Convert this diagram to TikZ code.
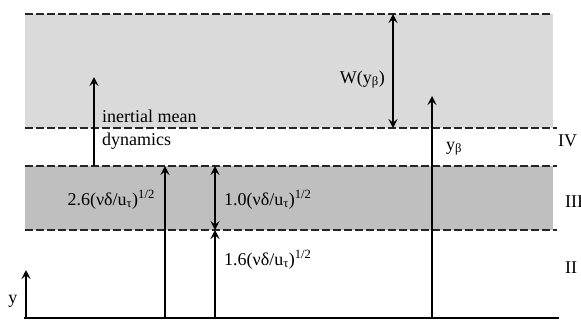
\documentclass[tikz,border=0pt]{standalone}
\usepackage{fontspec}
\setmainfont{Liberation Serif}
\usetikzlibrary{arrows.meta}
\definecolor{lightband}{HTML}{DADADA}
\definecolor{darkband}{HTML}{BFBFBF}
\tikzset{
  lvl/.style={line width=2pt, dash pattern=on 7.5pt off 3.5pt, black!85},
  arr/.style={line width=2pt, -{Stealth[length=9pt,width=9pt,inset=3.5pt]}},
  darr/.style={line width=2pt, {Stealth[length=9pt,width=9pt,inset=3.5pt]}-{Stealth[length=9pt,width=9pt,inset=3.5pt]}},
  lbl/.style={inner sep=0pt, font=\fontsize{18}{23}\selectfont},
}
\begin{document}
\begin{tikzpicture}[x=1pt,y=-1pt]
\useasboundingbox (0,0) rectangle (581,322);
\fill[lightband] (25,14) rectangle (553,128);
\fill[darkband] (25,166) rectangle (553,230);
\draw[lvl] (25,14) -- (553,14);
\draw[lvl] (25,128) -- (557,128);
\draw[lvl] (25,166) -- (557,166);
\draw[lvl] (25,230) -- (557,230);
% baseline
\coordinate (b0) at (24,318);
\coordinate (b1) at (559,318);
\draw[line width=2.4pt] (b0) -- (b1);
% coordinates
\coordinate (ya) at (26,318);  \coordinate (yb) at (26,270);
\coordinate (ia) at (94,166);  \coordinate (ib) at (94,77);
\coordinate (ta) at (165,318); \coordinate (tb) at (165,166);
\coordinate (sa) at (215,318); \coordinate (sb) at (215,230);
\coordinate (oa) at (215,230); \coordinate (ob) at (215,166);
\coordinate (wa) at (393,128); \coordinate (wb) at (393,14);
\coordinate (ba) at (432,318); \coordinate (bb) at (432,96);
\draw[arr] (ya) -- (yb);
\draw[arr] (ia) -- (ib);
\draw[arr] (ta) -- (tb);
\draw[arr] (sa) -- (sb);
\draw[darr] (oa) -- (ob);
\draw[darr] (wa) -- (wb);
\draw[arr] (ba) -- (bb);
% labels
\node[lbl, anchor=base] (ylab) at (13,303) {y};
\node[lbl, anchor=base west] (in1) at (102,122) {inertial mean};
\node[lbl, anchor=base west] (in2) at (102,145) {dynamics};
\node[lbl, anchor=base east] (l26) at (155,205) {2.6(νδ/u\textsubscript{τ})\textsuperscript{1/2}};
\node[lbl, anchor=base west] (l10) at (224,205) {1.0(νδ/u\textsubscript{τ})\textsuperscript{1/2}};
\node[lbl, anchor=base west] (l16) at (224,265) {1.6(νδ/u\textsubscript{τ})\textsuperscript{1/2}};
\node[lbl, anchor=base east] (lw) at (385,83) {W(y\textsubscript{β})};
\node[lbl, anchor=base west] (lb) at (446,150) {y\textsubscript{β}};
\node[lbl, anchor=base west] (r4) at (558,146) {IV};
\node[lbl, anchor=base west] (r3) at (565,207) {III};
\node[lbl, anchor=base west] (r2) at (565,273) {II};
\end{tikzpicture}
\end{document}
